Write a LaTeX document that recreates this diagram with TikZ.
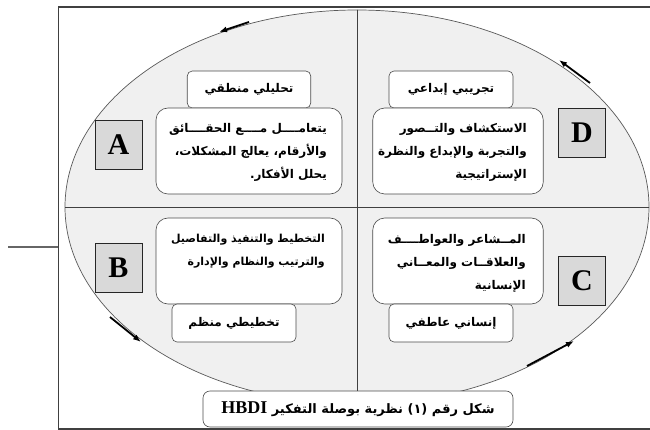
\documentclass[tikz,border=0pt]{standalone}
\usepackage{fontspec}
\TeXXeTstate=1
\newfontfamily\arabicfont[Script=Arabic]{DejaVu Sans}
\newfontfamily\serifbold{Liberation Serif}
\usetikzlibrary{arrows.meta}
\definecolor{ellfill}{gray}{0.94}
\definecolor{letfill}{gray}{0.85}
\newcommand{\arl}[1]{\beginR #1\endR}
\begin{document}
\begin{tikzpicture}[x=1pt,y=-1pt,
  frameline/.style={draw=black!75, line width=1.3pt},
  divider/.style={draw=black!75, line width=0.7pt},
  titlebox/.style={draw=black!70, fill=white, rounded corners=5pt, line width=0.6pt, inner sep=0pt,
     font=\arabicfont\bfseries\fontsize{12}{14}\selectfont},
  bodybox/.style={draw=black!70, fill=white, rounded corners=12pt, line width=0.6pt, inner sep=0pt},
  bodytext/.style={font=\arabicfont\bfseries\fontsize{12}{23}\selectfont, align=right, inner sep=0pt, anchor=north east},
  letterbox/.style={draw=black!85, fill=letfill, line width=0.6pt, inner sep=0pt,
     minimum width=47pt, minimum height=49pt, font=\serifbold\bfseries\fontsize{30}{32}\selectfont},
  flow/.style={-{Latex[length=8pt,width=6pt]}, line width=1.8pt, black}]
\useasboundingbox (0,0) rectangle (650,430);
% frame and left stub
\draw[frameline] (662,7) -- (58.5,7) -- (58.5,429) -- (662,429);
\draw[draw=black!60, line width=1.3pt] (8,247) -- (58,247);
% ellipse
\path[draw=black!65, fill=ellfill, line width=0.7pt] (357,207) ellipse [x radius=292, y radius=197];
\begin{scope}
  \clip (357,207) ellipse [x radius=292, y radius=197];
  \draw[divider] (357,0) -- (357,400);
  \draw[divider] (50,207) -- (660,207);
\end{scope}
% letter boxes
\node[letterbox] (LA) at (118.5,144.5) {A};
\node[letterbox] (LB) at (118.5,267.5) {B};
\node[letterbox] (LD) at (582,133) {D};
\node[letterbox] (LC) at (582,280.5) {C};
% quadrant A
\node[titlebox, minimum width=123.5pt, minimum height=37pt] (TA) at (249,89.5) {\arl{تحليلي منطقي}};
\node[bodybox, minimum width=186pt, minimum height=86pt] (BA) at (249,151) {};
\node[bodytext] (XA) at (327,123) {\arl{يتعامــــل مــــع الحقــــائق}\\ \arl{والأرقام، يعالج المشكلات،}\\ \arl{يحلل الأفكار.}};
% quadrant D
\node[titlebox, minimum width=124pt, minimum height=37pt] (TD) at (451,89.5) {\arl{تجريبي إبداعي}};
\node[bodybox, minimum width=170.5pt, minimum height=86pt] (BD) at (458,151) {};
\node[bodytext] (XD) at (527,123) {\arl{الاستكشاف والتــصور}\\ \arl{والتجربة والإبداع والنظرة}\\ \arl{الإستراتيجية}};
% quadrant B
\node[bodybox, minimum width=186pt, minimum height=86pt] (BB) at (249,261) {};
\node[titlebox, minimum width=124pt, minimum height=38pt] (TB) at (234,323) {\arl{تخطيطي منظم}};
\node[bodytext, font=\arabicfont\bfseries\fontsize{11}{23}\selectfont] (XB) at (325,234) {\arl{التخطيط والتنفيذ والتفاصيل}\\ \arl{والترتيب والنظام والإدارة}};
% quadrant C
\node[bodybox, minimum width=170.5pt, minimum height=86pt] (BC) at (458,261) {};
\node[titlebox, minimum width=124pt, minimum height=38pt] (TC) at (451,323) {\arl{إنساني عاطفي}};
\node[bodytext] (XC) at (526,234) {\arl{المــشاعر والعواطــــف}\\ \arl{والعلاقــات والمعــاني}\\ \arl{الإنسانية}};
% caption
\node[titlebox, rounded corners=7pt, minimum width=310pt, minimum height=36pt,
  font=\arabicfont\bfseries\fontsize{13}{15}\selectfont] (CAP) at (358,409)
  {\beginR شكل رقم (١) نظرية بوصلة التفكير \beginL{\serifbold\bfseries\fontsize{18}{20}\selectfont HBDI}\endL\endR};
% flow arrows
\coordinate (a1s) at (249,22);  \coordinate (a1e) at (219,32);
\coordinate (a2s) at (590,83);  \coordinate (a2e) at (559,60);
\coordinate (a3s) at (110,317); \coordinate (a3e) at (141,342);
\coordinate (a4s) at (527,366); \coordinate (a4e) at (574,341);
\draw[flow] (a1s) -- (a1e);
\draw[flow] (a2s) -- (a2e);
\draw[flow] (a3s) -- (a3e);
\draw[flow] (a4s) -- (a4e);
\end{tikzpicture}
\end{document}
